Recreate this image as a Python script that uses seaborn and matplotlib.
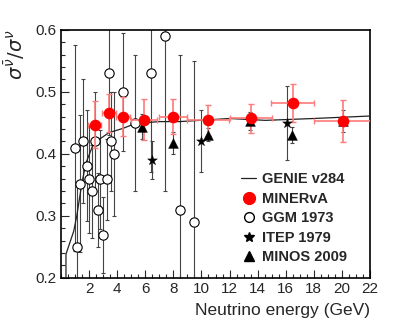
import numpy as np
import pandas as pd
import matplotlib
matplotlib.use("Agg")
import matplotlib.pyplot as plt
from matplotlib.lines import Line2D
import seaborn as sns

# GENIE v284 prediction
genie_e = [0.35, 0.35, 0.6, 0.9, 1.12, 1.48, 1.77, 2.32, 3.4, 4.4, 5.3, 7.0, 8.44, 9.9, 12.0, 14.55, 18.0, 22.0]
genie_r = [0.200, 0.238, 0.255, 0.275, 0.300, 0.352, 0.385, 0.417, 0.434, 0.441, 0.449, 0.452, 0.452, 0.454, 0.457, 0.454, 0.457, 0.461]

# MINERvA
minerva_e = [2.4, 3.4, 4.4, 5.9, 7.95, 10.45, 13.5, 16.5, 20.1]
minerva_r = [0.447, 0.466, 0.460, 0.455, 0.460, 0.454, 0.457, 0.482, 0.453]
minerva_xerr = [0.45, 0.5, 0.5, 0.9, 1.0, 1.5, 1.5, 1.55, 2.05]
minerva_yerr = [0.038, 0.030, 0.031, 0.033, 0.028, 0.025, 0.024, 0.030, 0.034]

# GGM 1973
ggm_e = [0.96, 1.17, 1.36, 1.53, 1.84, 1.96, 2.2, 2.4, 2.61, 2.8, 2.99, 3.28, 3.4, 3.59, 3.76, 4.41, 5.3, 6.42, 7.43, 8.46, 9.47]
ggm_r = [0.41, 0.25, 0.352, 0.42, 0.381, 0.359, 0.34, 0.42, 0.309, 0.359, 0.269, 0.359, 0.53, 0.42, 0.40, 0.50, 0.45, 0.53, 0.59, 0.31, 0.29]
ggm_err = [0.166, 0.10, 0.11, 0.10, 0.09, 0.087, 0.075, 0.08, 0.06, 0.08, 0.062, 0.065, 0.10, 0.08, 0.10, 0.095, 0.11, 0.16, 0.25, 0.25, 0.26]

# ITEP 1979
itep_e = [6.45, 9.95, 16.07]
itep_r = [0.39, 0.42, 0.45]
itep_err = [0.03, 0.05, 0.06]

# MINOS 2009
minos_e = [5.8, 7.96, 10.43, 13.47, 16.47, 20.1]
minos_r = [0.444, 0.417, 0.431, 0.453, 0.430, 0.453]
minos_err = [0.02, 0.018, 0.01, 0.015, 0.013, 0.017]

sns.set_style("ticks")
plt.rcParams["font.family"] = ["Liberation Sans", "DejaVu Sans"]
plt.rcParams["mathtext.fontset"] = "dejavusans"

fig = plt.figure(figsize=(4.07, 3.28), dpi=100)
ax = fig.add_axes([0.150, 0.153, 0.759, 0.756])

# error bars first
for xs, ys, es in [(ggm_e, ggm_r, ggm_err), (itep_e, itep_r, itep_err), (minos_e, minos_r, minos_err)]:
    ax.errorbar(xs, ys, yerr=es, fmt="none", ecolor="#444444",
                elinewidth=0.8, capsize=1.5, capthick=0.8, zorder=2)
ax.errorbar(minerva_e, minerva_r, xerr=minerva_xerr, yerr=minerva_yerr, fmt="none",
            ecolor="#ff7a7a", elinewidth=1.2, capsize=2, capthick=1.0, zorder=4)

genie = pd.DataFrame({"E": genie_e, "r": genie_r})
sns.lineplot(data=genie, x="E", y="r", ax=ax, color="#222222", lw=0.9,
             sort=False, estimator=None, zorder=3)

ggm = pd.DataFrame({"E": ggm_e, "r": ggm_r})
sns.scatterplot(data=ggm, x="E", y="r", ax=ax, marker="o", s=45,
                facecolor="white", edgecolor="black", linewidth=0.8, zorder=3)
itep = pd.DataFrame({"E": itep_e, "r": itep_r})
sns.scatterplot(data=itep, x="E", y="r", ax=ax, marker="*", s=55,
                color="black", edgecolor="black", linewidth=0.3, zorder=5)
minos = pd.DataFrame({"E": minos_e, "r": minos_r})
sns.scatterplot(data=minos, x="E", y="r", ax=ax, marker="^", s=50,
                color="black", edgecolor="black", linewidth=0.3, zorder=5)
minerva = pd.DataFrame({"E": minerva_e, "r": minerva_r})
sns.scatterplot(data=minerva, x="E", y="r", ax=ax, marker="o", s=70,
                color="#ff0000", edgecolor="#ff0000", linewidth=0, zorder=6)

ax.set_xlim(0, 22)
ax.set_ylim(0.2, 0.6)
ax.set_xticks(np.arange(2, 23, 2))
ax.set_yticks([0.2, 0.3, 0.4, 0.5, 0.6])
ax.set_yticklabels(["0.2", "0.3", "0.4", "0.5", "0.6"])
ax.xaxis.set_minor_locator(matplotlib.ticker.MultipleLocator(0.5))
ax.yaxis.set_minor_locator(matplotlib.ticker.MultipleLocator(0.02))
ax.tick_params(which="both", direction="in", top=False, right=False, labelsize=11, pad=3)
ax.tick_params(which="major", length=6, width=0.8)
ax.tick_params(which="minor", length=3, width=0.8)
for sp in ax.spines.values():
    sp.set_visible(True)
    sp.set_linewidth(1.2)
    sp.set_color("black")

ax.set_xlabel("Neutrino energy (GeV)", fontsize=12.5, loc="right", labelpad=5)
ax.set_ylabel(r"$\sigma^{\bar{\nu}}/\sigma^{\nu}$", fontsize=14, loc="top", labelpad=6)

handles = [
    Line2D([], [], color="#222222", lw=0.9),
    Line2D([], [], marker="o", ls="none", color="#ff0000", markersize=8.5),
    Line2D([], [], marker="o", ls="none", mfc="white", mec="black", markersize=7),
    Line2D([], [], marker="*", ls="none", color="black", markersize=7),
    Line2D([], [], marker="^", ls="none", color="black", markersize=6.5),
]
labels = ["GENIE v284", "MINERvA", "GGM 1973", "ITEP 1979", "MINOS 2009"]
ax.legend(handles, labels, loc="lower left", bbox_to_anchor=(0.56, 0.025),
          frameon=False, handlelength=1.0, handletextpad=0.4, labelspacing=0.38,
          borderpad=0, prop={"weight": "bold", "size": 10.5})

fig.savefig("out.png", dpi=100)
